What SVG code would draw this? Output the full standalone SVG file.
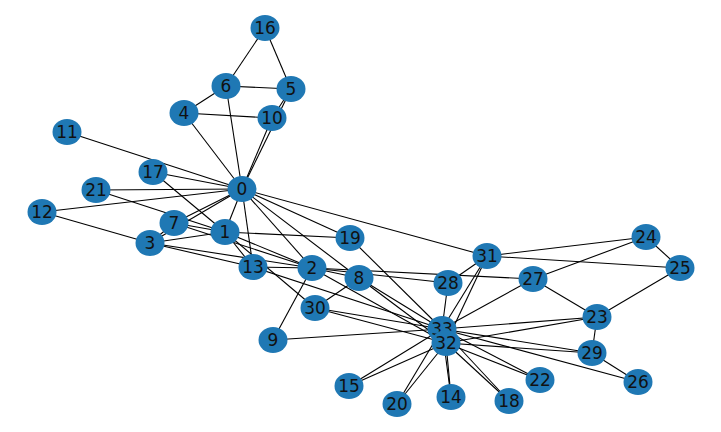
<svg xmlns="http://www.w3.org/2000/svg" width="721" height="432" viewBox="0 0 721 432">
<style>
.e line{stroke:#000;stroke-width:1.1}
.n ellipse{fill:#1f78b4}
.n text{font-family:"DejaVu Sans",sans-serif;font-size:17px;fill:#111;text-anchor:middle;dominant-baseline:central}
</style>
<rect width="721" height="432" fill="#fff"/>
<g id="edges" class="e">
<line x1="242" y1="189" x2="225" y2="232"/>
<line x1="242" y1="189" x2="312" y2="268"/>
<line x1="242" y1="189" x2="150" y2="243"/>
<line x1="242" y1="189" x2="184" y2="113"/>
<line x1="242" y1="189" x2="291" y2="89"/>
<line x1="242" y1="189" x2="226" y2="86"/>
<line x1="242" y1="189" x2="174" y2="223"/>
<line x1="242" y1="189" x2="359" y2="278"/>
<line x1="242" y1="189" x2="272" y2="118"/>
<line x1="242" y1="189" x2="67" y2="132"/>
<line x1="242" y1="189" x2="42" y2="212"/>
<line x1="242" y1="189" x2="253" y2="267"/>
<line x1="242" y1="189" x2="153" y2="172"/>
<line x1="242" y1="189" x2="350" y2="238"/>
<line x1="242" y1="189" x2="96" y2="190"/>
<line x1="242" y1="189" x2="487" y2="256"/>
<line x1="225" y1="232" x2="312" y2="268"/>
<line x1="225" y1="232" x2="150" y2="243"/>
<line x1="225" y1="232" x2="174" y2="223"/>
<line x1="225" y1="232" x2="253" y2="267"/>
<line x1="225" y1="232" x2="153" y2="172"/>
<line x1="225" y1="232" x2="350" y2="238"/>
<line x1="225" y1="232" x2="96" y2="190"/>
<line x1="225" y1="232" x2="315" y2="308"/>
<line x1="312" y1="268" x2="150" y2="243"/>
<line x1="312" y1="268" x2="174" y2="223"/>
<line x1="312" y1="268" x2="359" y2="278"/>
<line x1="312" y1="268" x2="273" y2="340"/>
<line x1="312" y1="268" x2="253" y2="267"/>
<line x1="312" y1="268" x2="533" y2="279"/>
<line x1="312" y1="268" x2="448" y2="283"/>
<line x1="312" y1="268" x2="446" y2="343"/>
<line x1="150" y1="243" x2="174" y2="223"/>
<line x1="150" y1="243" x2="42" y2="212"/>
<line x1="150" y1="243" x2="253" y2="267"/>
<line x1="184" y1="113" x2="226" y2="86"/>
<line x1="184" y1="113" x2="272" y2="118"/>
<line x1="291" y1="89" x2="226" y2="86"/>
<line x1="291" y1="89" x2="272" y2="118"/>
<line x1="291" y1="89" x2="265" y2="28"/>
<line x1="226" y1="86" x2="265" y2="28"/>
<line x1="359" y1="278" x2="315" y2="308"/>
<line x1="359" y1="278" x2="446" y2="343"/>
<line x1="359" y1="278" x2="442" y2="329"/>
<line x1="273" y1="340" x2="442" y2="329"/>
<line x1="253" y1="267" x2="442" y2="329"/>
<line x1="451" y1="397" x2="446" y2="343"/>
<line x1="451" y1="397" x2="442" y2="329"/>
<line x1="349" y1="386" x2="446" y2="343"/>
<line x1="349" y1="386" x2="442" y2="329"/>
<line x1="509" y1="401" x2="446" y2="343"/>
<line x1="509" y1="401" x2="442" y2="329"/>
<line x1="350" y1="238" x2="442" y2="329"/>
<line x1="397" y1="404" x2="446" y2="343"/>
<line x1="397" y1="404" x2="442" y2="329"/>
<line x1="540" y1="380" x2="446" y2="343"/>
<line x1="540" y1="380" x2="442" y2="329"/>
<line x1="597" y1="317" x2="680" y2="268"/>
<line x1="597" y1="317" x2="533" y2="279"/>
<line x1="597" y1="317" x2="592" y2="353"/>
<line x1="597" y1="317" x2="446" y2="343"/>
<line x1="597" y1="317" x2="442" y2="329"/>
<line x1="646" y1="237" x2="680" y2="268"/>
<line x1="646" y1="237" x2="533" y2="279"/>
<line x1="646" y1="237" x2="487" y2="256"/>
<line x1="680" y1="268" x2="487" y2="256"/>
<line x1="638" y1="382" x2="592" y2="353"/>
<line x1="638" y1="382" x2="442" y2="329"/>
<line x1="533" y1="279" x2="442" y2="329"/>
<line x1="448" y1="283" x2="487" y2="256"/>
<line x1="448" y1="283" x2="442" y2="329"/>
<line x1="592" y1="353" x2="446" y2="343"/>
<line x1="592" y1="353" x2="442" y2="329"/>
<line x1="315" y1="308" x2="446" y2="343"/>
<line x1="315" y1="308" x2="442" y2="329"/>
<line x1="487" y1="256" x2="446" y2="343"/>
<line x1="487" y1="256" x2="442" y2="329"/>
<line x1="446" y1="343" x2="442" y2="329"/>
</g>
<g id="node-0" class="n"><ellipse cx="242" cy="189" rx="14.5" ry="13"/><text x="242" y="189">0</text></g>
<g id="node-1" class="n"><ellipse cx="225" cy="232" rx="14.5" ry="13"/><text x="225" y="232">1</text></g>
<g id="node-2" class="n"><ellipse cx="312" cy="268" rx="14.5" ry="13"/><text x="312" y="268">2</text></g>
<g id="node-3" class="n"><ellipse cx="150" cy="243" rx="14.5" ry="13"/><text x="150" y="243">3</text></g>
<g id="node-4" class="n"><ellipse cx="184" cy="113" rx="14.5" ry="13"/><text x="184" y="113">4</text></g>
<g id="node-5" class="n"><ellipse cx="291" cy="89" rx="14.5" ry="13"/><text x="291" y="89">5</text></g>
<g id="node-6" class="n"><ellipse cx="226" cy="86" rx="14.5" ry="13"/><text x="226" y="86">6</text></g>
<g id="node-7" class="n"><ellipse cx="174" cy="223" rx="14.5" ry="13"/><text x="174" y="223">7</text></g>
<g id="node-8" class="n"><ellipse cx="359" cy="278" rx="14.5" ry="13"/><text x="359" y="278">8</text></g>
<g id="node-9" class="n"><ellipse cx="273" cy="340" rx="14.5" ry="13"/><text x="273" y="340">9</text></g>
<g id="node-10" class="n"><ellipse cx="272" cy="118" rx="14.5" ry="13"/><text x="272" y="118">10</text></g>
<g id="node-11" class="n"><ellipse cx="67" cy="132" rx="14.5" ry="13"/><text x="67" y="132">11</text></g>
<g id="node-12" class="n"><ellipse cx="42" cy="212" rx="14.5" ry="13"/><text x="42" y="212">12</text></g>
<g id="node-13" class="n"><ellipse cx="253" cy="267" rx="14.5" ry="13"/><text x="253" y="267">13</text></g>
<g id="node-14" class="n"><ellipse cx="451" cy="397" rx="14.5" ry="13"/><text x="451" y="397">14</text></g>
<g id="node-15" class="n"><ellipse cx="349" cy="386" rx="14.5" ry="13"/><text x="349" y="386">15</text></g>
<g id="node-16" class="n"><ellipse cx="265" cy="28" rx="14.5" ry="13"/><text x="265" y="28">16</text></g>
<g id="node-17" class="n"><ellipse cx="153" cy="172" rx="14.5" ry="13"/><text x="153" y="172">17</text></g>
<g id="node-18" class="n"><ellipse cx="509" cy="401" rx="14.5" ry="13"/><text x="509" y="401">18</text></g>
<g id="node-19" class="n"><ellipse cx="350" cy="238" rx="14.5" ry="13"/><text x="350" y="238">19</text></g>
<g id="node-20" class="n"><ellipse cx="397" cy="404" rx="14.5" ry="13"/><text x="397" y="404">20</text></g>
<g id="node-21" class="n"><ellipse cx="96" cy="190" rx="14.5" ry="13"/><text x="96" y="190">21</text></g>
<g id="node-22" class="n"><ellipse cx="540" cy="380" rx="14.5" ry="13"/><text x="540" y="380">22</text></g>
<g id="node-23" class="n"><ellipse cx="597" cy="317" rx="14.5" ry="13"/><text x="597" y="317">23</text></g>
<g id="node-24" class="n"><ellipse cx="646" cy="237" rx="14.5" ry="13"/><text x="646" y="237">24</text></g>
<g id="node-25" class="n"><ellipse cx="680" cy="268" rx="14.5" ry="13"/><text x="680" y="268">25</text></g>
<g id="node-26" class="n"><ellipse cx="638" cy="382" rx="14.5" ry="13"/><text x="638" y="382">26</text></g>
<g id="node-27" class="n"><ellipse cx="533" cy="279" rx="14.5" ry="13"/><text x="533" y="279">27</text></g>
<g id="node-28" class="n"><ellipse cx="448" cy="283" rx="14.5" ry="13"/><text x="448" y="283">28</text></g>
<g id="node-29" class="n"><ellipse cx="592" cy="353" rx="14.5" ry="13"/><text x="592" y="353">29</text></g>
<g id="node-30" class="n"><ellipse cx="315" cy="308" rx="14.5" ry="13"/><text x="315" y="308">30</text></g>
<g id="node-31" class="n"><ellipse cx="487" cy="256" rx="14.5" ry="13"/><text x="487" y="256">31</text></g>
<g id="node-33" class="n"><ellipse cx="442" cy="329" rx="14.5" ry="13"/><text x="442" y="329">33</text></g>
<g id="node-32" class="n"><ellipse cx="446" cy="343" rx="14.5" ry="13"/><text x="446" y="343">32</text></g>
</svg>
